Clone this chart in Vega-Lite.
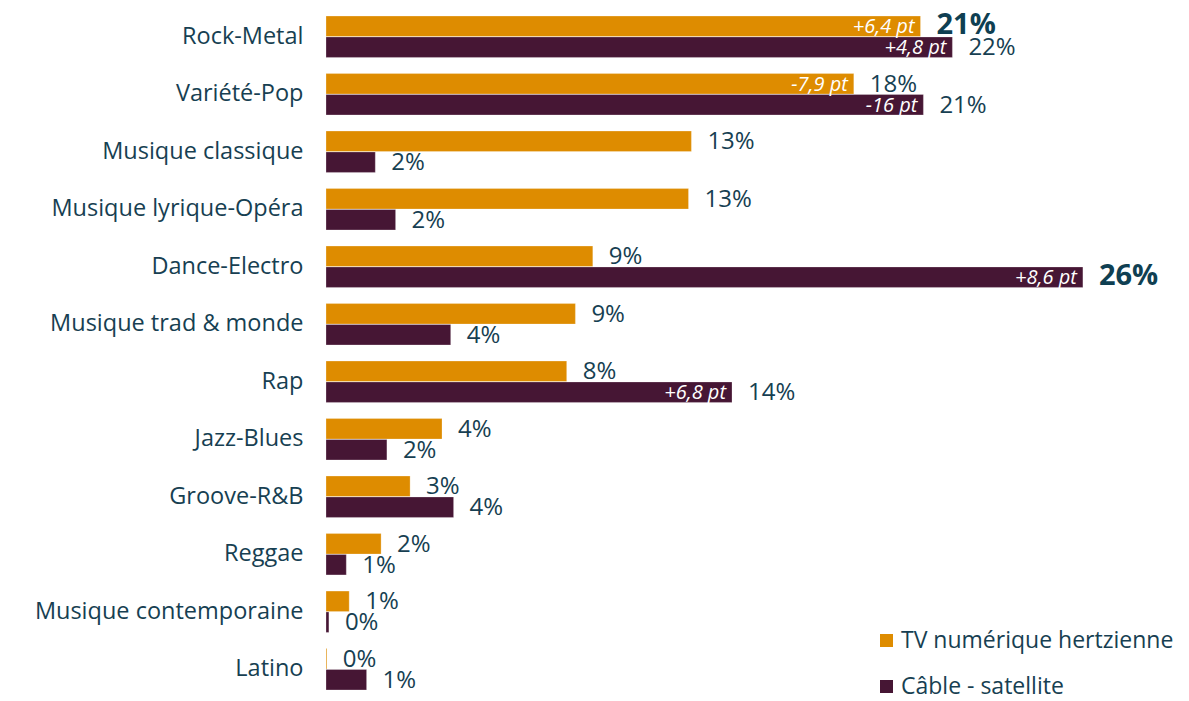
{
  "$schema": "https://vega.github.io/schema/vega-lite/v6.json",
  "width": 841,
  "height": 690,
  "autosize": {"type": "none"},
  "padding": {"left": 326, "top": 8, "right": 22, "bottom": 3},
  "background": "white",
  "config": {"view": {"stroke": null}, "font": "Open Sans"},
  "data": {"values": [
    {"genre": "Rock-Metal", "serie": "TV numérique hertzienne", "value": 20.5, "label": "21%", "evo": "+6,4 pt", "bold": true},
    {"genre": "Rock-Metal", "serie": "Câble - satellite", "value": 21.6, "label": "22%", "evo": "+4,8 pt", "bold": false},
    {"genre": "Variété-Pop", "serie": "TV numérique hertzienne", "value": 18.2, "label": "18%", "evo": "-7,9 pt", "bold": false},
    {"genre": "Variété-Pop", "serie": "Câble - satellite", "value": 20.6, "label": "21%", "evo": "-16 pt", "bold": false},
    {"genre": "Musique classique", "serie": "TV numérique hertzienne", "value": 12.6, "label": "13%", "evo": null, "bold": false},
    {"genre": "Musique classique", "serie": "Câble - satellite", "value": 1.7, "label": "2%", "evo": null, "bold": false},
    {"genre": "Musique lyrique-Opéra", "serie": "TV numérique hertzienne", "value": 12.5, "label": "13%", "evo": null, "bold": false},
    {"genre": "Musique lyrique-Opéra", "serie": "Câble - satellite", "value": 2.4, "label": "2%", "evo": null, "bold": false},
    {"genre": "Dance-Electro", "serie": "TV numérique hertzienne", "value": 9.2, "label": "9%", "evo": null, "bold": false},
    {"genre": "Dance-Electro", "serie": "Câble - satellite", "value": 26.1, "label": "26%", "evo": "+8,6 pt", "bold": true},
    {"genre": "Musique trad & monde", "serie": "TV numérique hertzienne", "value": 8.6, "label": "9%", "evo": null, "bold": false},
    {"genre": "Musique trad & monde", "serie": "Câble - satellite", "value": 4.3, "label": "4%", "evo": null, "bold": false},
    {"genre": "Rap", "serie": "TV numérique hertzienne", "value": 8.3, "label": "8%", "evo": null, "bold": false},
    {"genre": "Rap", "serie": "Câble - satellite", "value": 14.0, "label": "14%", "evo": "+6,8 pt", "bold": false},
    {"genre": "Jazz-Blues", "serie": "TV numérique hertzienne", "value": 4.0, "label": "4%", "evo": null, "bold": false},
    {"genre": "Jazz-Blues", "serie": "Câble - satellite", "value": 2.1, "label": "2%", "evo": null, "bold": false},
    {"genre": "Groove-R&B", "serie": "TV numérique hertzienne", "value": 2.9, "label": "3%", "evo": null, "bold": false},
    {"genre": "Groove-R&B", "serie": "Câble - satellite", "value": 4.4, "label": "4%", "evo": null, "bold": false},
    {"genre": "Reggae", "serie": "TV numérique hertzienne", "value": 1.9, "label": "2%", "evo": null, "bold": false},
    {"genre": "Reggae", "serie": "Câble - satellite", "value": 0.7, "label": "1%", "evo": null, "bold": false},
    {"genre": "Musique contemporaine", "serie": "TV numérique hertzienne", "value": 0.8, "label": "1%", "evo": null, "bold": false},
    {"genre": "Musique contemporaine", "serie": "Câble - satellite", "value": 0.1, "label": "0%", "evo": null, "bold": false},
    {"genre": "Latino", "serie": "TV numérique hertzienne", "value": 0.03, "label": "0%", "evo": null, "bold": false},
    {"genre": "Latino", "serie": "Câble - satellite", "value": 1.4, "label": "1%", "evo": null, "bold": false}
  ]},
  "encoding": {
    "y": {
      "field": "genre", "type": "nominal", "sort": null,
      "scale": {"paddingInner": 0.28, "paddingOuter": 0.14},
      "axis": {"title": null, "domain": false, "ticks": false, "labelPadding": 23, "labelFontSize": 23.5, "labelColor": "#173F52", "labelFont": "Open Sans", "labelLimit": 400}
    },
    "yOffset": {"field": "serie", "type": "nominal", "sort": ["TV numérique hertzienne", "Câble - satellite"], "scale": {"paddingInner": 0.02}},
    "x": {"field": "value", "type": "quantitative", "scale": {"domain": [0, 29], "nice": false}, "axis": null}
  },
  "layer": [
    {
      "mark": {"type": "bar", "stroke": "white", "strokeWidth": 0.5, "strokeOpacity": 0.5},
      "encoding": {
        "color": {
          "field": "serie", "type": "nominal",
          "scale": {"domain": ["TV numérique hertzienne", "Câble - satellite"], "range": ["#DE8C00", "#461634"]},
          "legend": {
            "title": null, "orient": "none", "legendX": 549, "legendY": 621,
            "symbolType": "square", "symbolSize": 169, "symbolStrokeWidth": 0,
            "labelFontSize": 23, "labelColor": "#173F52", "labelFont": "Open Sans", "labelLimit": 400,
            "rowPadding": 22, "labelOffset": 3, "padding": 0
          }
        }
      }
    },
    {
      "transform": [{"filter": "!datum.bold"}],
      "mark": {"type": "text", "align": "left", "baseline": "middle", "dx": 16, "dy": 1, "fontSize": 24, "color": "#173F52"},
      "encoding": {"text": {"field": "label"}}
    },
    {
      "transform": [{"filter": "datum.bold"}],
      "mark": {"type": "text", "align": "left", "baseline": "middle", "dx": 16, "dy": -1, "fontSize": 29, "fontWeight": "bold", "color": "#0F3F52"},
      "encoding": {"text": {"field": "label"}}
    },
    {
      "transform": [{"filter": "datum.evo != null"}],
      "mark": {"type": "text", "align": "right", "baseline": "middle", "dx": -6, "dy": 1, "fontSize": 20, "fontStyle": "italic", "color": "white"},
      "encoding": {"text": {"field": "evo"}}
    }
  ]
}
